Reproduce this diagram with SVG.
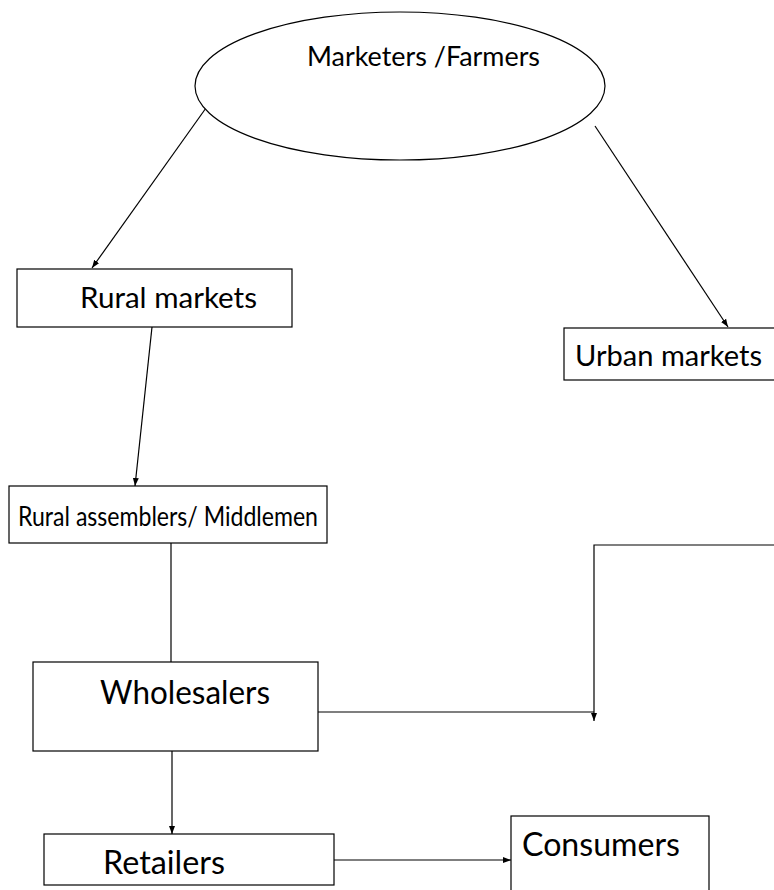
<svg xmlns="http://www.w3.org/2000/svg" width="774" height="890" viewBox="0 0 774 890">
<style>
.box{fill:#fff;stroke:#000;stroke-width:1.2}
.lbl{font-family:Lato,"Open Sans","Liberation Sans",sans-serif;fill:#000}
.cn{fill:none;stroke:#000;stroke-width:1.2}
</style>
<defs>
<marker id="ah" markerUnits="userSpaceOnUse" markerWidth="8" markerHeight="8" viewBox="0 0 8 8" refX="8" refY="4" orient="auto">
<path d="M0,1 L8,4 L0,7 Z" fill="#000"/>
</marker>
</defs>
<rect width="774" height="890" fill="#fff"/>
<g id="connectors">
<line class="cn" x1="206" y1="108" x2="92" y2="268" marker-end="url(#ah)"/>
<line class="cn" x1="595" y1="126" x2="728" y2="327" marker-end="url(#ah)"/>
<line class="cn" x1="152" y1="327" x2="135" y2="486" marker-end="url(#ah)"/>
<line class="cn" x1="171" y1="543" x2="171" y2="662"/>
<line class="cn" x1="318" y1="712" x2="594" y2="712"/>
<path class="cn" d="M774,545 L594,545 L594,721" marker-end="url(#ah)"/>
<line class="cn" x1="172" y1="751" x2="172" y2="834" marker-end="url(#ah)"/>
<line class="cn" x1="334" y1="860" x2="511" y2="860" marker-end="url(#ah)"/>
</g>
<g id="marketers">
<ellipse class="box" cx="400" cy="86" rx="205" ry="74"/>
<text class="lbl" x="307" y="66" font-size="26" textLength="233" lengthAdjust="spacingAndGlyphs">Marketers /Farmers</text>
</g>
<g id="rural-markets">
<rect class="box" x="17" y="269" width="275" height="58"/>
<text class="lbl" x="80" y="308" font-size="28" textLength="177" lengthAdjust="spacingAndGlyphs">Rural markets</text>
</g>
<g id="urban-markets">
<rect class="box" x="564" y="328" width="212" height="52"/>
<text class="lbl" x="575" y="366" font-size="28" textLength="187" lengthAdjust="spacingAndGlyphs">Urban markets</text>
</g>
<g id="assemblers">
<rect class="box" x="9" y="486" width="318" height="57"/>
<text class="lbl" x="18" y="526" font-size="26" textLength="300" lengthAdjust="spacingAndGlyphs">Rural assemblers/ Middlemen</text>
</g>
<g id="wholesalers">
<rect class="box" x="33" y="662" width="285" height="89"/>
<text class="lbl" x="100" y="704" font-size="32" textLength="170" lengthAdjust="spacingAndGlyphs">Wholesalers</text>
</g>
<g id="retailers">
<rect class="box" x="44" y="834" width="290" height="51"/>
<text class="lbl" x="103" y="874" font-size="32" textLength="122" lengthAdjust="spacingAndGlyphs">Retailers</text>
</g>
<g id="consumers">
<rect class="box" x="511" y="816" width="198" height="80"/>
<text class="lbl" x="522" y="856" font-size="32" textLength="158" lengthAdjust="spacingAndGlyphs">Consumers</text>
</g>
</svg>
